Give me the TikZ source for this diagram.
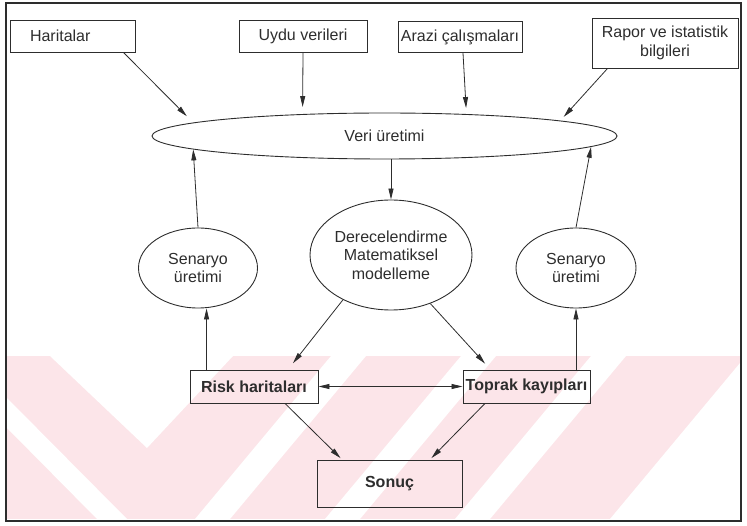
\documentclass[tikz,border=0pt]{standalone}
\usepackage{fontspec}
\setmainfont{Liberation Sans}
\usetikzlibrary{arrows.meta,shapes.geometric}
\definecolor{ink}{RGB}{45,45,45}
\definecolor{wmpink}{RGB}{252,229,233}
\tikzset{
  box/.style={draw=ink,line width=0.9pt,rectangle,inner sep=0pt,align=center,text=ink},
  oval/.style={draw=ink,line width=0.9pt,ellipse,inner sep=0pt,align=center,text=ink},
  arr/.style={draw=ink,line width=0.8pt,-{Triangle[length=11pt,width=5pt]}},
  arrs/.style={draw=ink,line width=0.8pt,{Triangle[length=11pt,width=5pt]}-{Triangle[length=11pt,width=5pt]}},
}
\begin{document}
\begin{tikzpicture}[x=1pt,y=-1pt,font=\fontsize{16}{18.5}\selectfont]
\useasboundingbox (0,0) rectangle (747,526);

% watermark stripes
\fill[wmpink] (7,356) rectangle (740,519);
\fill[white] (7,398) -- (127,519) -- (97,519) -- (7,428) -- cycle;
\fill[white] (50,356) -- (233,356) -- (147,448) -- cycle;
\foreach \sx in {195,325,455}
  \fill[white] (\sx,519) -- (\sx+35,519) -- (\sx+171,356) -- (\sx+136,356) -- cycle;
\fill[white] (610,519) -- (740,519) -- (740,363) -- cycle;

% frame
\draw[ink,line width=2pt] (6,3) rectangle (741,521);

% data sources
\node[box,minimum width=125pt,minimum height=32pt,text width=85pt,align=left] (har) at (72.5,36) {Haritalar};
\node[box,minimum width=128pt,minimum height=32pt] (uydu) at (303,36) {Uydu verileri};
\node[box,minimum width=124pt,minimum height=31pt] (arazi) at (460,37) {Arazi çalışmaları};
\node[box,minimum width=146pt,minimum height=50pt] (rapor) at (665,43) {Rapor ve istatistik\\bilgileri};

% ellipses
\node[oval,minimum width=465pt,minimum height=46pt] (veri) at (384.5,136) {Veri üretimi};
\node[oval,minimum width=162pt,minimum height=110pt] (mat) at (391,255) {Derecelendirme\\Matematiksel\\modelleme};
\node[oval,minimum width=119pt,minimum height=80pt] (lsen) at (198,268) {Senaryo\\üretimi};
\node[oval,minimum width=120pt,minimum height=80pt] (rsen) at (576,268) {Senaryo\\üretimi};

% results
\node[box,minimum width=128pt,minimum height=33pt,font=\fontsize{16}{18.5}\selectfont\bfseries] (risk) at (254,386.5) {Risk haritaları};
\node[box,minimum width=127pt,minimum height=33pt,font=\fontsize{16}{18.5}\selectfont\bfseries] (toprak) at (526.5,386.5) {Toprak kayıpları};
\node[box,minimum width=145pt,minimum height=47pt,font=\fontsize{16}{18.5}\selectfont\bfseries] (sonuc) at (389.5,483.5) {Sonuç};
\coordinate (rl) at ([xshift=17pt]risk.north west);

% inputs to data production
\draw[arr,shorten >=9pt] ([xshift=-12pt]har.south east) -- (veri.176.4);
\draw[arr,shorten >=7pt] (uydu.south) -- (veri.165.2);
\draw[arr,shorten >=6pt] ([xshift=3pt]arazi.south) -- (veri.15.4);
\draw[arr,shorten >=5pt] ([xshift=16pt]rapor.south west) -- (veri.5.2);

% middle part
\draw[arr] (veri.south -| mat.north) -- (mat.north);
\draw[arr] (lsen.north) -- (veri.184.2);
\draw[arr] (rsen.north) -- (veri.-3.9);
\draw[arr] (rl) -- (rl |- lsen.south);
\draw[arr] (rsen.south |- toprak.north) -- (rsen.south);
\draw[arr,shorten >=8pt] (mat.223) -- ([xshift=34pt]risk.north);
\draw[arr,shorten >=8pt] (mat.-51) -- ([xshift=-36pt]toprak.north);

% results
\draw[arrs] (risk.east) -- (toprak.west);
\draw[arr,shorten >=2pt] ([xshift=31pt]risk.south) -- ([xshift=-47.5pt]sonuc.north);
\draw[arr,shorten >=2pt] ([xshift=-41.5pt]toprak.south) -- ([xshift=40.5pt]sonuc.north);
\end{tikzpicture}
\end{document}
